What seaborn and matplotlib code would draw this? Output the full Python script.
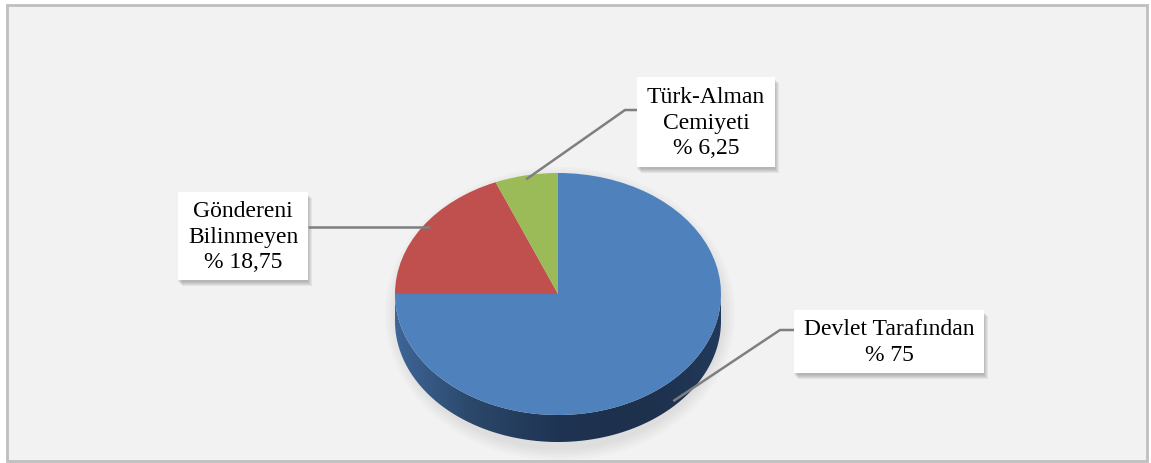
import numpy as np
import matplotlib
matplotlib.use("Agg")
import matplotlib.pyplot as plt
from matplotlib.patches import Rectangle, Polygon, Ellipse
from matplotlib.colors import LinearSegmentedColormap
import seaborn as sns

# ----------------------------- DATA -----------------------------
categories = ["Devlet Tarafından", "Göndereni Bilinmeyen", "Türk-Alman Cemiyeti"]
label_lines = [["Devlet Tarafından"], ["Göndereni", "Bilinmeyen"], ["Türk-Alman", "Cemiyeti"]]
shares = [75, 18.75, 6.25]
colors = ["#4f81bd", "#c0504d", "#9bbb59"]

# ----------------------------- LAYOUT -----------------------------
W, H = 1151, 463
CX, CY = 558, 294          # pie centre (pixels)
RX, RY = 163, 121          # ellipse radii (pixels)
DEPTH = 27                 # side height (pixels)
D = DEPTH / RY

# label boxes: x, y, w, h in pixels (top-left origin)
boxes = [(794, 310, 190, 63), (178, 192, 130, 88), (637, 77, 138, 90)]
elbows = [(780, 330), None, (625, 110)]

sns.set_theme(style="white")
plt.rcParams["font.family"] = ["Liberation Serif", "DejaVu Serif"]

fig = plt.figure(figsize=(W / 100, H / 100), dpi=100)
fig.patch.set_facecolor("white")

# background frame
bg = fig.add_axes([0, 0, 1, 1], zorder=0)
bg.set_xlim(0, W)
bg.set_ylim(H, 0)
bg.axis("off")
bg.add_patch(Rectangle((7, 5), 1140, 456, facecolor="#f2f2f2", edgecolor="#bfbfbf", lw=2))

# soft shadow under the pie
for i in range(5):
    g = 12 - i * 2.5
    bg.add_patch(Ellipse((CX + 2, CY + DEPTH / 2 + 6), 2 * RX + g * 2, 2 * RY + DEPTH + g * 2,
                         facecolor="#9a9a9a", edgecolor="none", alpha=0.045))

# pie axes (stretched so the circle becomes an ellipse)
pax = fig.add_axes([(CX - RX) / W, (H - CY - RY - DEPTH) / H, 2 * RX / W, (2 * RY + DEPTH) / H], zorder=1)
t = np.linspace(np.pi, 2 * np.pi, 200)
side_xy = np.concatenate([np.c_[np.cos(t), np.sin(t)], np.c_[np.cos(t[::-1]), np.sin(t[::-1]) - D]])
side = Polygon(side_xy, closed=True, facecolor="none", edgecolor="none")
pax.add_patch(side)
side_cmap = LinearSegmentedColormap.from_list("side", ["#3e6596", "#2a4668", "#1f3453", "#1d304c", "#22395a"])
grad = np.linspace(0, 1, 256)[None, :]
im = pax.imshow(grad, cmap=side_cmap, extent=(-1, 1, -1 - D, 0), aspect="auto", zorder=1)
im.set_clip_path(side)

wedges, _ = pax.pie(shares, colors=colors, startangle=90, counterclock=False,
                    wedgeprops=dict(linewidth=0, antialiased=True))
for w in wedges:
    w.set_zorder(2)
pax.set_aspect("auto")
pax.set_xlim(-1, 1)
pax.set_ylim(-1 - D, 1)
pax.axis("off")

# labels overlay
lax = fig.add_axes([0, 0, 1, 1], zorder=2)
lax.set_xlim(0, W)
lax.set_ylim(H, 0)
lax.axis("off")
lax.patch.set_alpha(0)

angles = 90 - (np.cumsum(shares) - np.array(shares) / 2) / 100 * 360
for i, (lines, v) in enumerate(zip(label_lines, shares)):
    bx, by, bw, bh = boxes[i]
    a = np.deg2rad(angles[i])
    ax_ = CX + RX * np.cos(a)
    ay_ = CY - RY * np.sin(a) + (DEPTH * 0.8 if np.sin(a) < 0 else 4)
    if elbows[i] is None:
        pts = [(bx + bw, ay_ - 4), (ax_ + 8, ay_ - 4)]
    else:
        ex, ey = elbows[i]
        sx = bx if ex < bx else bx + bw
        pts = [(sx, ey), (ex, ey), (ax_, ay_)]
    lax.plot(*zip(*pts), color="#7f7f7f", lw=1.8, solid_capstyle="butt")
    # blurred drop shadow
    for k, o in enumerate([6, 5, 4, 3, 2]):
        lax.add_patch(Rectangle((bx + o - 2, by + o), bw, bh, facecolor="#555555",
                                edgecolor="none", alpha=0.09))
    lax.add_patch(Rectangle((bx, by), bw, bh, facecolor="white", edgecolor="none"))
    txt = "\n".join(lines + ["% " + f"{v:g}".replace(".", ",")])
    lax.text(bx + bw / 2, by + bh / 2 + 1, txt, ha="center", va="center", fontsize=17,
             linespacing=1.3, color="black")

fig.savefig("out.png", dpi=100, facecolor="white")
